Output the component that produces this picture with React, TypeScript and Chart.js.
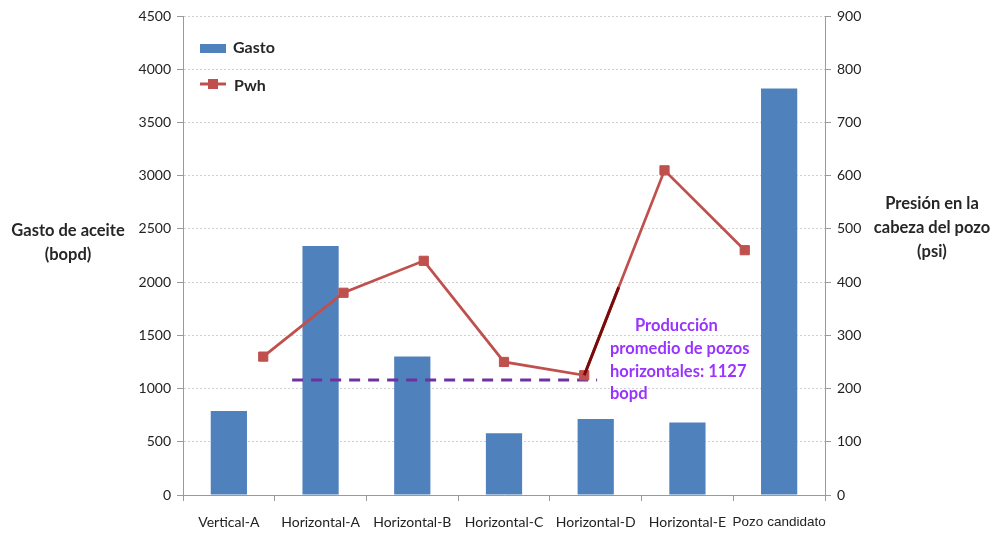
import React, { useEffect, useRef } from "react";
import { Chart, registerables } from "chart.js";
Chart.register(...registerables);

const categories = ["Vertical-A", "Horizontal-A", "Horizontal-B", "Horizontal-C", "Horizontal-D", "Horizontal-E", "Pozo candidato"];
const gasto = [790, 2340, 1300, 580, 715, 680, 3820];
const pwh = [260, 380, 440, 250, 225, 610, 460];
const pwhIndex = [0, 1, 2, 3, 4, 5, 6];
const promedioValue = 1080;
const promedioSpan = [0.36, 4.16];
const promedioText = ["Producción", "promedio de pozos", "horizontales: 1127", "bopd"];
const leftTitle = ["Gasto de aceite", "(bopd)"];
const rightTitle = ["Presión en la", "cabeza del pozo", "(psi)"];
const legendLabels = ["Gasto", "Pwh"];

const BLUE = "#4F81BD";
const RED = "#C0504D";
const PURPLE = "#7030A0";
const VIOLET = "#9933FF";
const TXT = "#262626";
const TICK = "#222";

const overlay = {
  id: "overlay",
  afterDatasetsDraw(chart: any) {
    const ctx = chart.ctx;
    const meta = chart.getDatasetMeta(1);
    const p4 = meta.data[4];
    const p5 = meta.data[5];
    if (p4 && p5) {
      const f = 0.43;
      ctx.save();
      ctx.strokeStyle = "#7A0A0A";
      ctx.lineWidth = 3;
      ctx.beginPath();
      ctx.moveTo(p4.x, p4.y);
      ctx.lineTo(p4.x + (p5.x - p4.x) * f, p4.y + (p5.y - p4.y) * f);
      ctx.stroke();
      ctx.restore();
    }
  },
  afterDraw(chart: any) {
    const ctx = chart.ctx;
    ctx.save();
    ctx.fillStyle = TXT;
    ctx.font = "bold 16.5px Lato";
    ctx.textAlign = "center";
    ctx.textBaseline = "middle";
    leftTitle.forEach((t, i) => ctx.fillText(t, 68, 231 + i * 24));
    rightTitle.forEach((t, i) => ctx.fillText(t, 932, 204 + i * 24));
    ctx.fillStyle = BLUE;
    ctx.fillRect(200, 44, 26, 9);
    ctx.strokeStyle = RED;
    ctx.lineWidth = 3;
    ctx.beginPath();
    ctx.moveTo(200, 84);
    ctx.lineTo(226, 84);
    ctx.stroke();
    ctx.fillStyle = RED;
    ctx.fillRect(208, 79, 10, 10);
    ctx.fillStyle = TXT;
    ctx.textAlign = "left";
    ctx.font = "bold 16px Lato";
    ctx.fillText(legendLabels[0], 233, 48);
    ctx.fillText(legendLabels[1], 234, 86);
    ctx.fillStyle = VIOLET;
    ctx.font = "bold 16.5px Lato";
    promedioText.forEach((t, i) => ctx.fillText(t, i === 0 ? 635 : 610, 326 + i * 22.7));
    ctx.restore();
  },
};

export default function App() {
  const ref = useRef<HTMLCanvasElement>(null);
  useEffect(() => {
    if (!ref.current) return;
    const chart = new Chart(ref.current, {
      type: "bar",
      data: {
        labels: categories,
        datasets: [
          {
            type: "bar",
            label: legendLabels[0],
            data: gasto,
            backgroundColor: BLUE,
            borderWidth: 0,
            barPercentage: 0.395,
            categoryPercentage: 1,
            grouped: false,
            xAxisID: "x",
            yAxisID: "y",
            order: 3,
          },
          {
            type: "line",
            label: legendLabels[1],
            data: pwh.map((v, i) => ({ x: pwhIndex[i], y: v })),
            borderColor: RED,
            backgroundColor: RED,
            borderWidth: 2.75,
            pointStyle: "rect",
            pointRadius: 6.5,
            pointBorderWidth: 1,
            pointBackgroundColor: RED,
            pointBorderColor: RED,
            xAxisID: "xl",
            yAxisID: "y2",
            order: 1,
          },
          {
            type: "line",
            label: "promedio",
            data: promedioSpan.map((x) => ({ x, y: promedioValue })),
            borderColor: PURPLE,
            borderWidth: 3,
            borderDash: [11, 8],
            pointRadius: 0,
            xAxisID: "xl",
            yAxisID: "y",
            order: 2,
          },
        ],
      } as any,
      options: {
        animation: false,
        responsive: false,
        devicePixelRatio: 1,
        layout: { padding: { top: 16, left: 0, right: 0, bottom: 0 } },
        plugins: { legend: { display: false }, tooltip: { enabled: false } },
        scales: {
          x: {
            type: "category",
            position: "bottom",
            offset: true,
            grid: { drawOnChartArea: false, offset: true, tickLength: 6, color: "#9a9a9a" },
            border: { color: "#9a9a9a", width: 1 },
            ticks: {
              color: TICK,
              padding: 13,
              maxRotation: 0,
              autoSkip: false,
              font: (c: any) => (c.index === 6 ? { family: "Liberation Sans", size: 13.5 } : { family: "Lato", size: 14 }),
            },
            afterFit: (s: any) => { s.height = 38; },
          },
          xl: { type: "linear", display: false, offset: false, min: -1, max: 7 },
          y: {
            position: "left",
            min: 0,
            max: 4500,
            ticks: { stepSize: 500, color: TICK, font: { family: "Lato", size: 14 }, padding: 6, callback: (v: any) => String(v) },
            grid: { color: "#d0d0d0", tickColor: "#9a9a9a", tickLength: 6, tickBorderDash: [] },
            border: { color: "#9a9a9a", dash: [2, 2] },
            afterFit: (s: any) => { s.width = 183; },
          },
          y2: {
            position: "right",
            min: 0,
            max: 900,
            ticks: { stepSize: 100, color: TICK, font: { family: "Lato", size: 14 }, padding: 6, callback: (v: any) => String(v) },
            grid: { drawOnChartArea: false, tickColor: "#9a9a9a", tickLength: 6 },
            border: { color: "#9a9a9a" },
            afterFit: (s: any) => { s.width = 170; },
          },
        },
      } as any,
      plugins: [overlay],
    });
    return () => chart.destroy();
  }, []);
  return (
    <div style={{ position: "fixed", left: 0, top: 0, width: 995, height: 533, background: "#fff" }}>
      <canvas ref={ref} width={995} height={533} style={{ width: 995, height: 533 }} />
    </div>
  );
}
